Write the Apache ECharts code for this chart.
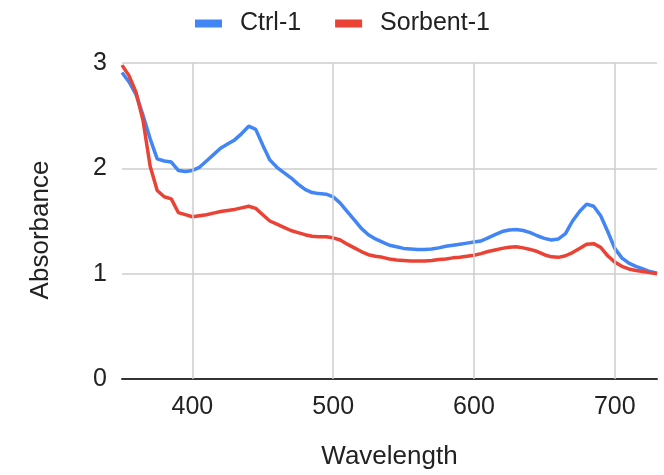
<!DOCTYPE html>
<html>
<head>
<meta charset="utf-8">
<script src="https://cdn.jsdelivr.net/npm/echarts@6/dist/echarts.min.js"></script>
<style>
  html, body { margin: 0; padding: 0; background: #fff; }
  #chart { width: 664px; height: 475px; }
</style>
</head>
<body>
<div id="chart"></div>
<script>
// Wavelength samples (nm), 5 nm steps
const wavelengths = [
  350, 355, 360, 365, 370, 375, 380, 385, 390, 395,
  400, 405, 410, 415, 420, 425, 430, 435, 440, 445,
  450, 455, 460, 465, 470, 475, 480, 485, 490, 495,
  500, 505, 510, 515, 520, 525, 530, 535, 540, 545,
  550, 555, 560, 565, 570, 575, 580, 585, 590, 595,
  600, 605, 610, 615, 620, 625, 630, 635, 640, 645,
  650, 655, 660, 665, 670, 675, 680, 685, 690, 695,
  700, 705, 710, 715, 720, 725, 730
];

// Absorbance of the control sample
const ctrl1 = [
  2.91, 2.82, 2.70, 2.50, 2.28, 2.09, 2.07, 2.06, 1.98, 1.97,
  1.98, 2.01, 2.07, 2.13, 2.19, 2.23, 2.27, 2.33, 2.40, 2.37,
  2.22, 2.08, 2.01, 1.96, 1.91, 1.85, 1.80, 1.77, 1.76, 1.755,
  1.73, 1.67, 1.59, 1.51, 1.43, 1.37, 1.33, 1.30, 1.27, 1.255,
  1.24, 1.235, 1.23, 1.23, 1.235, 1.245, 1.26, 1.27, 1.28, 1.29,
  1.30, 1.31, 1.34, 1.37, 1.40, 1.415, 1.42, 1.41, 1.39, 1.36,
  1.335, 1.32, 1.33, 1.38, 1.50, 1.59, 1.66, 1.64, 1.55, 1.40,
  1.24, 1.15, 1.10, 1.07, 1.045, 1.02, 1.005
];

// Absorbance of the sorbent-treated sample
const sorbent1 = [
  2.98, 2.88, 2.72, 2.45, 2.02, 1.79, 1.73, 1.71, 1.58, 1.56,
  1.54, 1.55, 1.56, 1.575, 1.59, 1.60, 1.61, 1.625, 1.64, 1.62,
  1.56, 1.50, 1.47, 1.44, 1.41, 1.39, 1.37, 1.355, 1.35, 1.35,
  1.34, 1.32, 1.28, 1.245, 1.21, 1.18, 1.165, 1.155, 1.14, 1.13,
  1.125, 1.12, 1.12, 1.12, 1.125, 1.135, 1.14, 1.15, 1.155, 1.165,
  1.175, 1.19, 1.21, 1.225, 1.24, 1.25, 1.255, 1.245, 1.23, 1.21,
  1.18, 1.16, 1.155, 1.17, 1.20, 1.24, 1.28, 1.285, 1.25, 1.17,
  1.11, 1.07, 1.045, 1.03, 1.02, 1.01, 1.0
];

// Labelled wavelength ticks and absorbance ticks
const xTicks = [400, 500, 600, 700];
const yTicks = [0, 1, 2, 3];

const FONT = '"Liberation Sans", Arial, sans-serif';

const pair = (ys) => wavelengths.map((w, i) => [w, ys[i]]);

const chart = echarts.init(document.getElementById('chart'), null, { renderer: 'canvas' });

chart.setOption({
  animation: false,
  backgroundColor: '#ffffff',
  textStyle: { fontFamily: FONT },
  legend: {
    top: 6,
    left: 190,
    icon: 'rect',
    itemWidth: 27,
    itemHeight: 8,
    itemGap: 34,
    textStyle: { fontFamily: FONT, fontSize: 25, color: '#222', padding: [0, 0, 0, 13] },
    data: ['Ctrl-1', 'Sorbent-1']
  },
  grid: { left: 122, right: 7, top: 63, bottom: 92, containLabel: false },
  xAxis: {
    type: 'value',
    min: wavelengths[0],
    max: wavelengths[wavelengths.length - 1],
    interval: 50,
    name: 'Wavelength',
    nameLocation: 'middle',
    nameGap: 65,
    nameTextStyle: { fontFamily: FONT, fontSize: 26, color: '#222' },
    axisLine: { show: true, lineStyle: { color: '#333', width: 2 } },
    axisTick: { show: false },
    splitLine: { show: false },
    axisLabel: {
      margin: 16,
      fontFamily: FONT,
      fontSize: 25,
      color: '#222',
      showMinLabel: false,
      showMaxLabel: false,
      formatter: (v) => (xTicks.indexOf(v) >= 0 ? String(v) : '')
    }
  },
  yAxis: {
    type: 'value',
    min: yTicks[0],
    max: yTicks[yTicks.length - 1],
    interval: 1,
    name: 'Absorbance',
    nameLocation: 'middle',
    nameGap: 68,
    nameTextStyle: { fontFamily: FONT, fontSize: 26, color: '#222', padding: [0, 18, 0, 0] },
    axisLine: { show: false },
    axisTick: { show: false },
    splitLine: { show: true, lineStyle: { color: '#cccccc', width: 1.5 } },
    axisLabel: { margin: 15, fontFamily: FONT, fontSize: 25, color: '#222' }
  },
  series: [
    {
      // vertical grid lines at the labelled wavelengths
      name: 'grid',
      type: 'line',
      data: [],
      silent: true,
      z: 1,
      markLine: {
        silent: true,
        symbol: ['none', 'none'],
        label: { show: false },
        lineStyle: { color: '#cccccc', width: 1.5, type: 'solid' },
        data: xTicks.map((x) => ({ xAxis: x }))
      }
    },
    {
      name: 'Ctrl-1',
      type: 'line',
      data: pair(ctrl1),
      showSymbol: false,
      symbol: 'none',
      z: 3,
      lineStyle: { color: '#4285F4', width: 3.5 },
      itemStyle: { color: '#4285F4' }
    },
    {
      name: 'Sorbent-1',
      type: 'line',
      data: pair(sorbent1),
      showSymbol: false,
      symbol: 'none',
      z: 4,
      lineStyle: { color: '#EA4335', width: 3.5 },
      itemStyle: { color: '#EA4335' }
    }
  ]
});
</script>
</body>
</html>
